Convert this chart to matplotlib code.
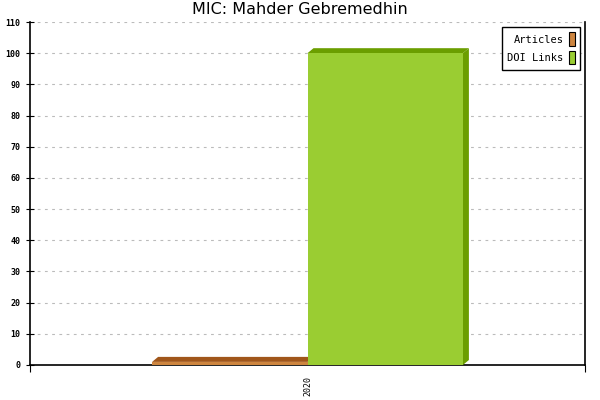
#!/usr/bin/env python3

import matplotlib
matplotlib.use("Agg")
import matplotlib.pyplot as plt
from matplotlib.patches import Polygon, Rectangle

# data
years = ["2020"]
series_names = ["Articles", "DOI Links"]
articles = [1]
doi_links = [100]
y_ticks = list(range(0, 111, 10))

front_colors = ["#cd853f", "#9acd32"]
dark_colors = ["#a0561a", "#6b9e00"]

fig = plt.figure(figsize=(6, 4), dpi=100)
ax = fig.add_axes([0.05, 0.0875, 0.925, 0.8575])

xmin, xmax = -0.5, 0.5
ymin, ymax = 0, 110
ax.set_xlim(xmin, xmax)
ax.set_ylim(ymin, ymax)

# 3d depth in pixels, converted to data units
ax_w = 0.925 * 600
ax_h = 0.8575 * 400
dx = 6 / ax_w * (xmax - xmin)
dy = 5 / ax_h * (ymax - ymin)

width = 0.28
values = [articles, doi_links]
for s, (vals, name) in enumerate(zip(values, series_names)):
    for i, v in enumerate(vals):
        x0 = i + (s - 0.5) * width - width / 2
        x1 = x0 + width
        # side face
        ax.add_patch(Polygon([(x1, 0), (x1 + dx, dy), (x1 + dx, v + dy), (x1, v)],
                             closed=True, facecolor=dark_colors[s], edgecolor="none",
                             zorder=3 + s))
        # top face
        ax.add_patch(Polygon([(x0, v), (x0 + dx, v + dy), (x1 + dx, v + dy), (x1, v)],
                             closed=True, facecolor=dark_colors[s], edgecolor="none",
                             zorder=3 + s))
        ax.bar(x0, v, width=width, align="edge", color=front_colors[s],
               edgecolor="none", zorder=3 + s, label=name)

# grid
ax.set_yticks(y_ticks)
ax.set_yticklabels([str(t) for t in y_ticks], fontfamily="DejaVu Sans Mono",
                   fontsize=6, fontweight="bold")
ax.yaxis.grid(True, linestyle=(0, (2.5, 4)), color="#bbbbbb", linewidth=0.8, zorder=0)
ax.tick_params(axis="y", direction="inout", length=6, width=0.8, pad=4)

ax.set_xticks([0])
ax.set_xticklabels(years, rotation=90, fontfamily="DejaVu Sans Mono", fontsize=6)
ax.set_xticks([xmin, xmax], minor=True)
ax.tick_params(axis="x", which="major", length=0, pad=8)
ax.tick_params(axis="x", which="minor", direction="out", length=5, width=0.8)

for side in ["left", "bottom", "right"]:
    ax.spines[side].set_color("black")
    ax.spines[side].set_linewidth(1.2)
ax.spines["top"].set_visible(False)

fig.suptitle("MIC: Mahder Gebremedhin", x=0.5, y=0.995, va="top", fontsize=11.5)

handles = [Rectangle((0, 0), 1, 1, facecolor=c, edgecolor="black", linewidth=0.8)
           for c in front_colors]
leg = ax.legend(handles, series_names, loc="upper right", markerfirst=False,
                prop={"family": "DejaVu Sans Mono", "size": 7.5},
                fancybox=False, framealpha=1, edgecolor="black",
                handlelength=0.55, handleheight=1.6, handletextpad=0.5,
                borderpad=0.5, labelspacing=0.5, borderaxespad=0.5,
                bbox_to_anchor=(1.0, 1.0))
leg.get_frame().set_linewidth(1.0)
leg.set_zorder(10)

fig.savefig("out.png", dpi=100)
